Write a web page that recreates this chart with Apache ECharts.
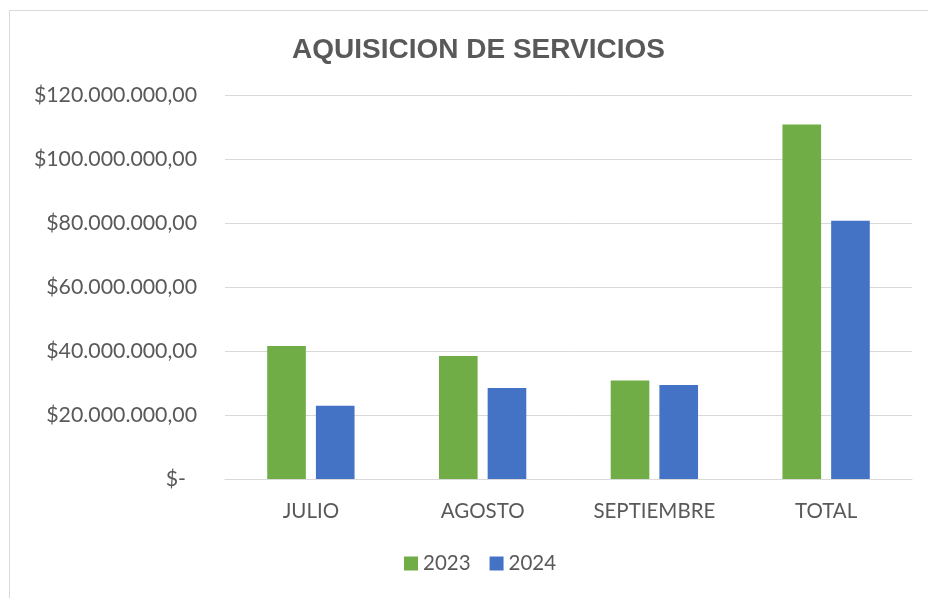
<!DOCTYPE html>
<html><head><meta charset="utf-8">
<script src="https://cdn.jsdelivr.net/npm/echarts@6/dist/echarts.min.js"></script>
<style>html,body{margin:0;padding:0;background:#fff}#c{width:928px;height:598px}</style>
</head><body><div id="c"></div>
<script>
const categories = ['JULIO', 'AGOSTO', 'SEPTIEMBRE', 'TOTAL'];
const series2023 = [41600000, 38400000, 30800000, 110800000];
const series2024 = [22900000, 28400000, 29400000, 80700000];
const seriesNames = ['2023', '2024'];
const titleText = 'AQUISICION DE SERVICIOS';

function fmt(v) {
  if (v === 0) return '{z|$-}';
  const s = Math.round(v).toString().replace(/\B(?=(\d{3})+(?!\d))/g, '.');
  return '$' + s + ',00';
}
const chart = echarts.init(document.getElementById('c'), null, {renderer: 'canvas'});
const font = 'Lato';
chart.setOption({
  animation: false,
  backgroundColor: '#fff',
  graphic: [{type: 'rect', shape: {x: 9.5, y: 10.5, width: 940, height: 600}, style: {fill: 'none', stroke: '#d9d9d9', lineWidth: 1}, silent: true}],
  title: {text: titleText, left: 287, top: 31, textStyle: {fontFamily: 'Liberation Sans', fontWeight: 'bold', fontSize: 28, color: '#595959'}},
  legend: {bottom: 19, left: 399, itemWidth: 14, itemHeight: 14, itemGap: 19, icon: 'rect',
    textStyle: {fontFamily: font, fontSize: 20.5, color: '#595959'}},
  grid: {left: 225, right: 16, top: 95, bottom: 119, containLabel: false},
  xAxis: {type: 'category', data: categories,
    axisLine: {lineStyle: {color: '#d9d9d9', width: 1}}, axisTick: {show: false},
    axisLabel: {fontFamily: font, fontSize: 20.5, color: '#595959', margin: 22}},
  yAxis: {type: 'value', min: 0, max: 120000000, interval: 20000000,
    axisLine: {show: false}, axisTick: {show: false},
    splitLine: {lineStyle: {color: '#d9d9d9', width: 1}},
    axisLabel: {fontFamily: font, fontSize: 21.3, color: '#595959', margin: 28, formatter: fmt,
      rich: {z: {fontFamily: font, fontSize: 21.3, color: '#595959', padding: [0, 11, 0, 0]}}}},
  series: [
    {name: seriesNames[0], type: 'bar', data: series2023, itemStyle: {color: '#70AD47'}, barWidth: '22.5%', barGap: '26%'},
    {name: seriesNames[1], type: 'bar', data: series2024, itemStyle: {color: '#4472C4'}, barWidth: '22.5%', barGap: '26%'}
  ]
});
</script></body></html>
